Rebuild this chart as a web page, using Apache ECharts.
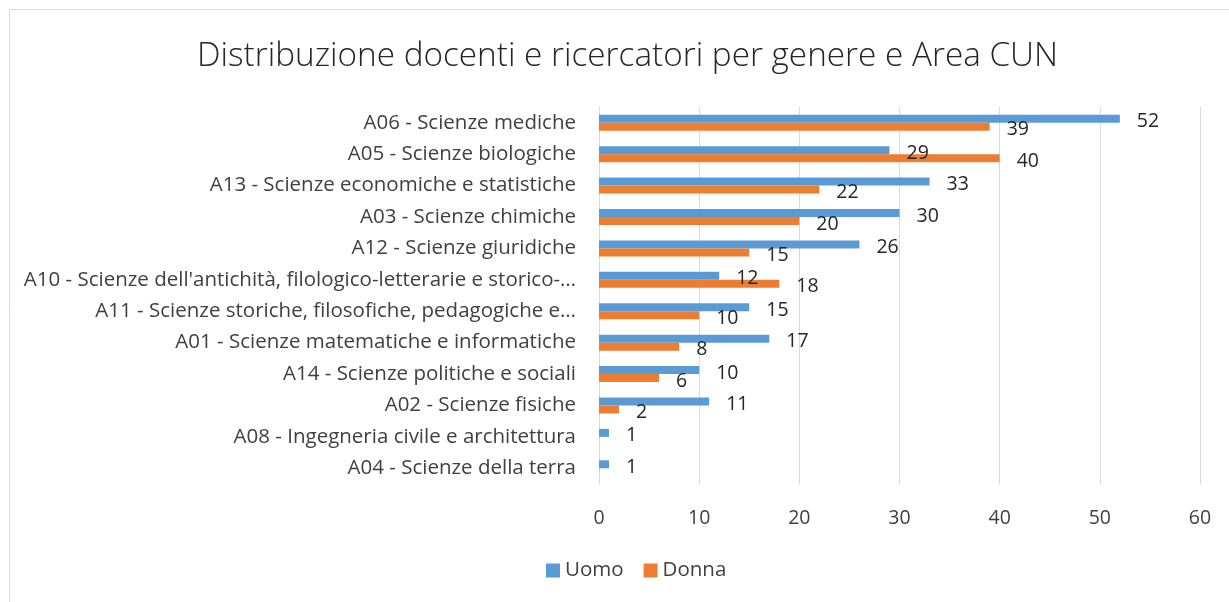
<!DOCTYPE html>
<html>
<head>
<meta charset="utf-8">
<script src="https://cdn.jsdelivr.net/npm/echarts@6/dist/echarts.min.js"></script>
<style>
  html, body { margin: 0; padding: 0; background: #fff; }
  #chart { width: 1229px; height: 602px; }
</style>
</head>
<body>
<div id="chart"></div>
<script>
const categories = [
  'A06 - Scienze mediche',
  'A05 - Scienze biologiche',
  'A13 - Scienze economiche e statistiche',
  'A03 - Scienze chimiche',
  'A12 - Scienze giuridiche',
  "A10 - Scienze dell'antichità, filologico-letterarie e storico-…",
  'A11 - Scienze storiche, filosofiche, pedagogiche e…',
  'A01 - Scienze matematiche e informatiche',
  'A14 - Scienze politiche e sociali',
  'A02 - Scienze fisiche',
  'A08 - Ingegneria civile e architettura',
  'A04 - Scienze della terra'
]
const uomo = [52, 29, 33, 30, 26, 12, 15, 17, 10, 11, 1, 1]
const donna = [39, 40, 22, 20, 15, 18, 10, 8, 6, 2, null, null]
const xTicks = [0, 10, 20, 30, 40, 50, 60]

const font = '"Open Sans", Lato, sans-serif'
const chart = echarts.init(document.getElementById('chart'))

let labelStyle = {
  show: true,
  position: 'right',
  distance: 17,
  offset: [0, 3],
  color: '#262626',
  fontSize: 19.5,
  fontFamily: font
}

let option = {
  animation: false,
  graphic: [{
    type: 'rect',
    shape: { x: 9.5, y: 9.5, width: 1240, height: 620 },
    style: { fill: 'none', stroke: '#d9d9d9', lineWidth: 1 },
    silent: true
  }],
  title: {
    text: 'Distribuzione docenti e ricercatori per genere e Area CUN',
    left: 192,
    top: 35,
    textStyle: {
      fontFamily: font,
      fontWeight: 300,
      fontSize: 33.3,
      color: '#262626'
    }
  },
  legend: {
    bottom: 16,
    left: 541,
    itemWidth: 14,
    itemHeight: 14,
    itemGap: 20,
    icon: 'rect',
    textStyle: { fontFamily: font, fontSize: 20.5, color: '#404040' },
    data: ['Uomo', 'Donna']
  },
  grid: {
    left: 599,
    right: 29,
    top: 107,
    bottom: 118,
    containLabel: false
  },
  xAxis: {
    type: 'value',
    min: 0,
    max: 60,
    interval: 10,
    axisLine: { show: false },
    axisTick: { show: false },
    splitLine: { show: true, lineStyle: { color: '#d9d9d9', width: 1 } },
    axisLabel: {
      margin: 24,
      fontFamily: font,
      fontSize: 19.5,
      color: '#404040',
      formatter: (v) => xTicks.includes(v) ? String(v) : ''
    }
  },
  yAxis: {
    type: 'category',
    inverse: true,
    data: categories,
    axisLine: { show: true, lineStyle: { color: '#d9d9d9', width: 1 } },
    axisTick: { show: false },
    axisLabel: {
      margin: 23,
      padding: [6, 0, 0, 0],
      fontFamily: font,
      fontSize: 20.5,
      color: '#404040'
    }
  },
  series: [
    {
      name: 'Uomo',
      type: 'bar',
      data: uomo,
      barWidth: 8,
      barGap: '0%',
      itemStyle: { color: '#5b9bd5' },
      label: labelStyle
    },
    {
      name: 'Donna',
      type: 'bar',
      data: donna,
      barWidth: 8,
      barGap: '0%',
      itemStyle: { color: '#ed7d31' },
      label: labelStyle
    }
  ]
}
chart.setOption(option)
</script>
</body>
</html>
